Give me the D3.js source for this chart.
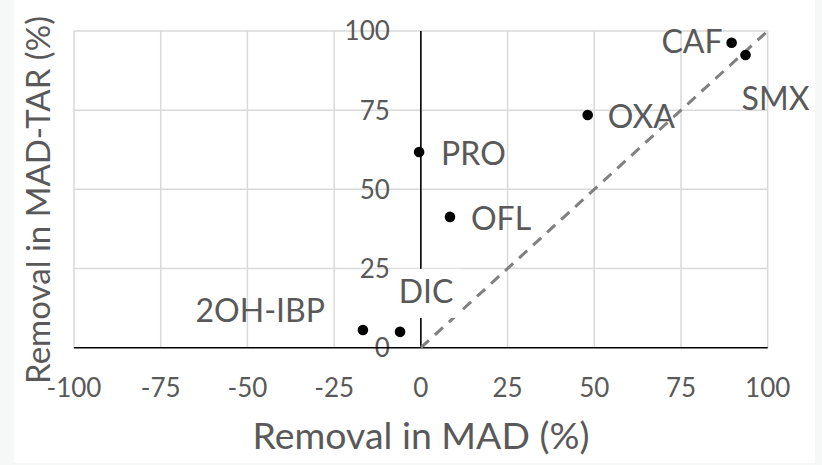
<!DOCTYPE html>
<html><head><meta charset="utf-8">
<script src="https://cdn.jsdelivr.net/npm/d3@7"></script>
<style>
html,body{margin:0;padding:0;background:#f6f8f8;}
svg{display:block;}
</style></head>
<body>
<svg id="chart" width="822" height="465"></svg>
<script>
// ---- data ----
const compounds = ["CAF","SMX","OXA","PRO","OFL","2OH-IBP","DIC"];
const removalMAD = [89.6, 93.6, 48.1, -0.5, 8.4, -16.7, -6.0];
const removalMADTAR = [96.3, 92.4, 73.5, 61.8, 41.3, 5.6, 5.0];
const xTicks = [-100,-75,-50,-25,0,25,50,75,100];
const yTicks = [0,25,50,75,100];
const xTitle = "Removal in MAD (%)";
const yTitle = "Removal in MAD-TAR (%)";
const refLine = [[0,0],[100,100]];

// ---- label layout (pixel offsets from point) ----
const labelLayout = {
  "CAF":{dx:-9,dy:10,anchor:"end"},
  "SMX":{dx:30,dy:55,anchor:"middle"},
  "OXA":{dx:20,dy:13,anchor:"start"},
  "PRO":{dx:22,dy:13,anchor:"start"},
  "OFL":{dx:21,dy:13,anchor:"start"},
  "2OH-IBP":{dx:-38,dy:-8,anchor:"end"},
  "DIC":{dx:26,dy:-29,anchor:"middle",bg:true}
};

const font = "Lato, 'Open Sans', sans-serif";
const textColor = "#595959";
const svg = d3.select("#chart");
svg.append("rect").attr("x",14).attr("y",0).attr("width",801).attr("height",463).attr("fill","#fff");

const x = d3.scaleLinear().domain([-100,100]).range([74,767.7]);
const y = d3.scaleLinear().domain([0,100]).range([347.7,31]);

const g = svg.append("g");
// gridlines
g.selectAll(".vg").data(xTicks.filter(d=>d!==0)).join("line")
  .attr("x1",d=>x(d)).attr("x2",d=>x(d)).attr("y1",y(0)).attr("y2",y(100))
  .attr("stroke","#d9d9d9").attr("stroke-width",1.5);
g.selectAll(".hg").data(yTicks.filter(d=>d!==0)).join("line")
  .attr("x1",x(-100)).attr("x2",x(100)).attr("y1",d=>y(d)).attr("y2",d=>y(d))
  .attr("stroke","#d9d9d9").attr("stroke-width",1.5);

// y tick labels (near x=0)
g.selectAll(".yl").data(yTicks).join("text")
  .attr("x",x(0)-31).attr("y",d=>y(d)).attr("dy","0.36em")
  .attr("text-anchor","end").attr("font-family",font).attr("font-size",26)
  .attr("fill",textColor).text(d=>d);

// x tick labels
g.selectAll(".xl").data(xTicks).join("text")
  .attr("x",d=>x(d)).attr("y",397)
  .attr("text-anchor","middle").attr("font-family",font).attr("font-size",26)
  .attr("fill",textColor).text(d=>d);

// axes
g.append("line").attr("x1",x(0)).attr("x2",x(0)).attr("y1",y(0)).attr("y2",y(100))
  .attr("stroke","#000").attr("stroke-width",1.6);
g.append("line").attr("x1",x(-100)).attr("x2",x(100)).attr("y1",y(0)).attr("y2",y(0))
  .attr("stroke","#000").attr("stroke-width",1.6);

// reference line
g.append("path").datum(refLine)
  .attr("d",d3.line().x(d=>x(d[0])).y(d=>y(d[1])))
  .attr("stroke","#808080").attr("stroke-width",3).attr("stroke-dasharray","11,8")
  .attr("fill","none");

// labels
const bgLayer = g.append("g");
const txtLayer = g.append("g");
const pts = compounds.map((c,i)=>({name:c,xv:removalMAD[i],yv:removalMADTAR[i]}));
pts.forEach(p=>{
  const L = labelLayout[p.name];
  const t = txtLayer.append("text")
    .attr("x",x(p.xv)+L.dx).attr("y",y(p.yv)+L.dy)
    .attr("text-anchor",L.anchor).attr("font-family",font).attr("font-size",32)
    .attr("fill",textColor).text(p.name);
  if(L.bg){
    const b = t.node().getBBox();
    bgLayer.append("rect").attr("x",b.x-8).attr("y",b.y-2)
      .attr("width",b.width+16).attr("height",b.height+10).attr("fill","#fff");
  }
});
// points
g.selectAll(".pt").data(pts).join("circle")
  .attr("cx",d=>x(d.xv)).attr("cy",d=>y(d.yv)).attr("r",5.3).attr("fill","#000");

// titles (fitted to the reference widths)
function fit(sel, target){
  const w = sel.node().getComputedTextLength();
  const fs = +sel.attr("font-size");
  sel.attr("font-size", fs*target/w);
}
const xt = svg.append("text").attr("x",421).attr("y",449).attr("text-anchor","middle")
  .attr("font-family",font).attr("font-size",36.5).attr("fill",textColor).text(xTitle);
fit(xt,337);
const yt = svg.append("text").attr("transform","translate(50,200) rotate(-90)").attr("text-anchor","middle")
  .attr("font-family",font).attr("font-size",36.5).attr("fill",textColor).text(yTitle);
fit(yt,368);
</script>
</body></html>
